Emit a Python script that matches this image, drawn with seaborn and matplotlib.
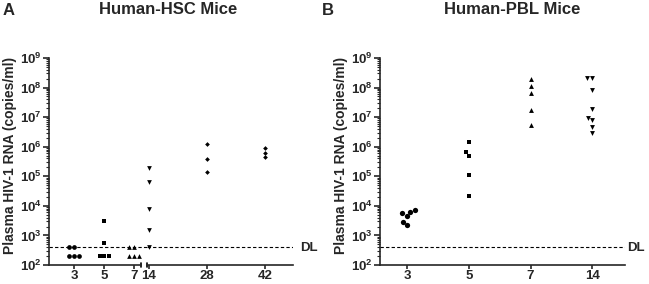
import numpy as np
import pandas as pd
import matplotlib
matplotlib.use("Agg")
import matplotlib.pyplot as plt
import seaborn as sns
from matplotlib.ticker import LogFormatterSciNotation, NullFormatter

sns.set_style("ticks")
plt.rcParams["font.family"] = ["Liberation Sans", "DejaVu Sans"]
plt.rcParams["font.weight"] = "bold"
plt.rcParams["mathtext.fontset"] = "custom"
plt.rcParams["mathtext.rm"] = "Liberation Sans:bold"
plt.rcParams["mathtext.it"] = "Liberation Sans:bold"
plt.rcParams["mathtext.bf"] = "Liberation Sans:bold"

DL = 400

# Human-HSC mice, viral load per day
HSC_LEFT_DAYS = [3, 5, 7]
HSC_RIGHT_DAYS = [14, 28, 42]
hsc_day3 = [400, 400, 200, 200, 200]
hsc_day5 = [3100, 560, 200, 200, 200]
hsc_day7 = [400, 400, 200, 200, 200]
hsc_day14 = [195000, 65000, 8000, 1550, 420]
hsc_day28 = [1.26e6, 3.9e5, 1.4e5]
hsc_day42 = [9.3e5, 6.3e5, 4.5e5]

# Human-PBL mice
PBL_DAYS = ["3", "5", "7", "14"]
pbl_day3 = [7400, 6300, 5600, 4500, 2950, 2300]
pbl_day5 = [1.5e6, 6.6e5, 4.8e5, 1.1e5, 2.1e4]
pbl_day7 = [2e8, 1.15e8, 6.6e7, 1.8e7, 5.6e6]
pbl_day14 = [2.1e8, 2.1e8, 8.2e7, 1.85e7, 9.5e6, 8.3e6, 4.7e6, 2.9e6]

Y_MAJOR = [10.0 ** k for k in range(2, 10)]
Y_MINOR = [m * 10.0 ** k for k in range(2, 9) for m in range(2, 10)]

W, H = 649, 284
Y_TOP, Y_BOT = 58, 265
fig = plt.figure(figsize=(W / 100, H / 100), dpi=100)


def px_axes(x0, x1, y0=Y_TOP, y1=Y_BOT):
    return fig.add_axes([x0 / W, 1 - y1 / H, (x1 - x0) / W, (y1 - y0) / H])


def style_axis(ax):
    ax.set_yscale("log")
    ax.set_ylim(1e2, 1e9)
    for s in ["top", "right"]:
        ax.spines[s].set_visible(False)
    for s in ["left", "bottom"]:
        ax.spines[s].set_linewidth(1.2)
    ax.set_yticks(Y_MAJOR)
    ax.set_yticks(Y_MINOR, minor=True)
    ax.yaxis.set_major_formatter(LogFormatterSciNotation())
    ax.yaxis.set_minor_formatter(NullFormatter())
    ax.tick_params(axis="y", which="major", labelsize=9.5, width=1.2, length=4, pad=1)
    ax.tick_params(axis="x", which="major", labelsize=9.5, width=1.2, length=3, pad=0.5)
    ax.tick_params(axis="y", which="minor", width=0.8, length=2)
    ax.set_xlabel("")
    ax.set_ylabel("")
    ax.xaxis.label.set_visible(False)


def swarm(ax, x, values, marker, size, **kw):
    df = pd.DataFrame({"day": [x] * len(values), "vl": values})
    sns.swarmplot(data=df, x="day", y="vl", ax=ax, color="black", marker=marker,
                  size=size, linewidth=0, **kw)


# ---- Panel A: broken x axis ----
axA1 = px_axes(49, 140.7)
axA2 = px_axes(146.7, 293)
for ax in (axA1, axA2):
    ax.set_yscale("log")
    ax.set_ylim(1e2, 1e9)

swarm(axA1, 3, hsc_day3, "o", 3.4, native_scale=True)
swarm(axA1, 5, hsc_day5, "s", 3.2, native_scale=True)
swarm(axA1, 7, hsc_day7, "^", 3.4, native_scale=True)
swarm(axA2, 14, hsc_day14, "v", 3.4, native_scale=True)
swarm(axA2, 28, hsc_day28, "D", 2.4, native_scale=True)
swarm(axA2, 42, hsc_day42, "D", 2.4, native_scale=True)

style_axis(axA1)
style_axis(axA2)
axA1.set_xlim(1.29, 7.45)
axA1.set_xticks(HSC_LEFT_DAYS)
axA2.set_xlim(13.45, 48.8)
axA2.set_xticks(HSC_RIGHT_DAYS)
axA2.spines["left"].set_visible(False)
axA2.tick_params(axis="y", which="both", left=False, labelleft=False)
axA2.yaxis.label.set_visible(False)
axA1.set_ylabel("Plasma HIV-1 RNA (copies/ml)", fontsize=10, fontweight="bold")
axA1.yaxis.set_label_coords((17 - 49) / 91.7, (Y_BOT - 155) / (Y_BOT - Y_TOP))

# break marks
axA1.plot([1, 1], [-0.012, 0.012], transform=axA1.transAxes, color="black", lw=1.2, clip_on=False)
axA2.plot([0, 0], [-0.012, 0.012], transform=axA2.transAxes, color="black", lw=1.2, clip_on=False)

axA1.axhline(DL, xmin=0, xmax=1 + 6 / 91.7, color="black", lw=0.8, ls=(0, (3, 2)), clip_on=False)
axA2.axhline(DL, color="black", lw=0.8, ls=(0, (3, 2)))

# ---- Panel B ----
axB = px_axes(380, 625)
axB.set_yscale("log")
axB.set_ylim(1e2, 1e9)
swarm(axB, "3", pbl_day3, "o", 3.8, order=PBL_DAYS)
swarm(axB, "5", pbl_day5, "s", 3.5, order=PBL_DAYS)
swarm(axB, "7", pbl_day7, "^", 3.5, order=PBL_DAYS)
swarm(axB, "14", pbl_day14, "v", 3.5, order=PBL_DAYS)
style_axis(axB)
axB.set_xlim(-0.44, 3.53)
axB.set_ylabel("Plasma HIV-1 RNA (copies/ml)", fontsize=10, fontweight="bold")
axB.yaxis.set_label_coords((348 - 380) / 245, (Y_BOT - 155) / (Y_BOT - Y_TOP))
axB.axhline(DL, color="black", lw=0.8, ls=(0, (3, 2)))

# ---- texts ----
fig.text(300 / W, 1 - 248 / H, "DL", fontsize=9.5, fontweight="bold", va="center", ha="left")
fig.text(627 / W, 1 - 248 / H, "DL", fontsize=9.5, fontweight="bold", va="center", ha="left")
fig.text(168 / W, 1 - 10 / H, "Human-HSC Mice", fontsize=12, fontweight="bold", ha="center", va="center")
fig.text(512 / W, 1 - 10 / H, "Human-PBL Mice", fontsize=12, fontweight="bold", ha="center", va="center")
fig.text(3 / W, 1 - 3 / H, "A", fontsize=12, fontweight="bold", ha="left", va="top")
fig.text(322 / W, 1 - 3 / H, "B", fontsize=12, fontweight="bold", ha="left", va="top")

fig.savefig("out.png", dpi=100)
